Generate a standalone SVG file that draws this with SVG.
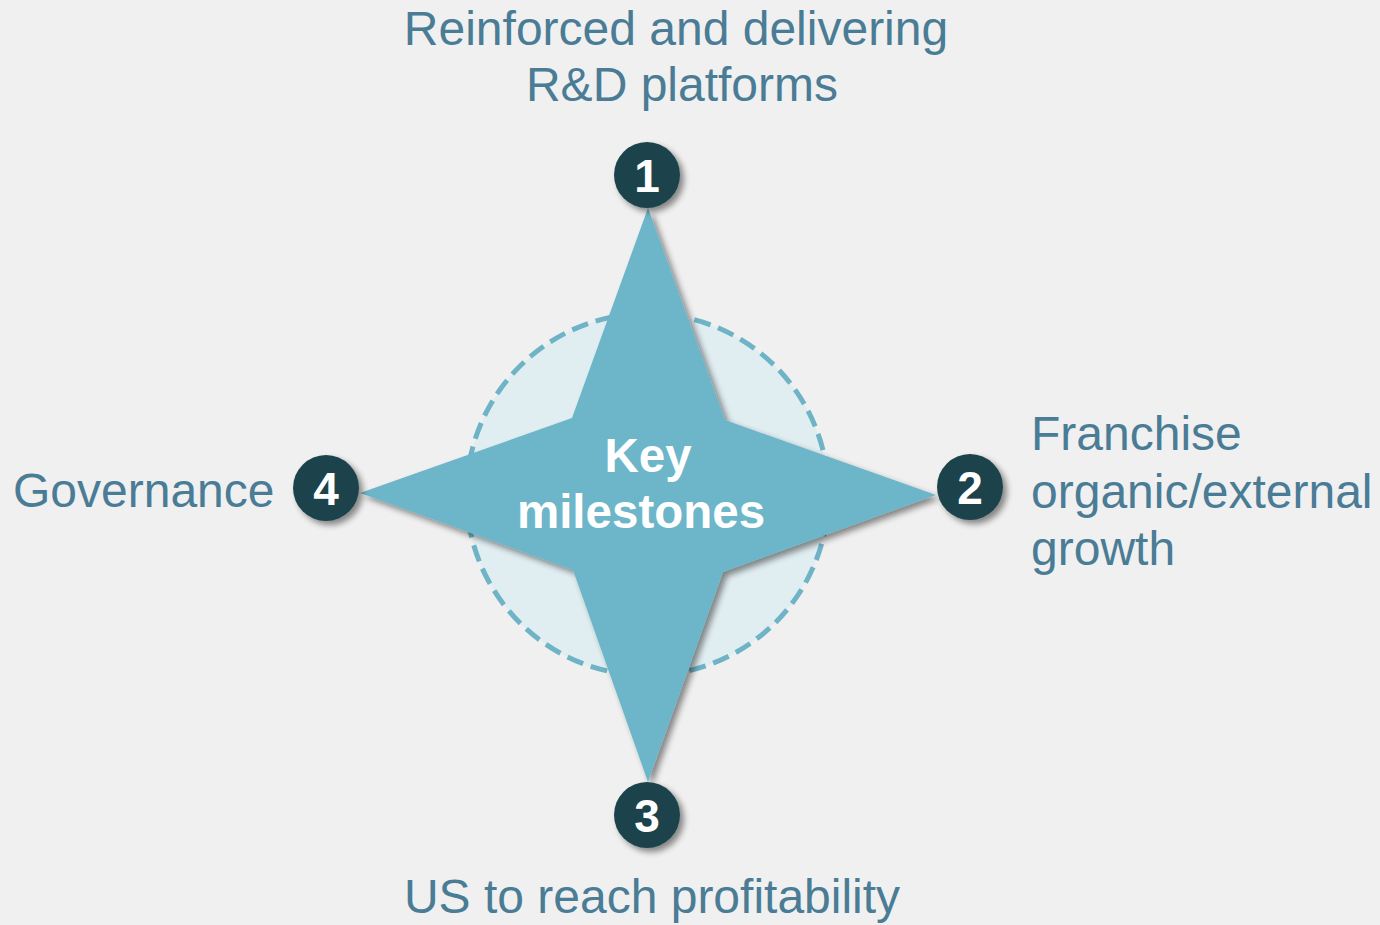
<svg xmlns="http://www.w3.org/2000/svg" width="1380" height="925" viewBox="0 0 1380 925">
<style>
.lbl{font-family:"Liberation Sans",Arial,sans-serif;font-size:48px;fill:#4a7c96}
.num{font-family:"Liberation Sans",Arial,sans-serif;font-size:46px;font-weight:bold;fill:#ffffff;text-anchor:middle}
.badge{fill:#1f434b;filter:url(#sh)}
.ctr{font-family:"Liberation Sans",Arial,sans-serif;font-size:47.5px;font-weight:bold;fill:#ffffff;text-anchor:middle}
</style>
<defs>
<filter id="sh" x="-30%" y="-30%" width="160%" height="160%">
<feGaussianBlur in="SourceAlpha" stdDeviation="3"/>
<feOffset dx="4" dy="4" result="b"/>
<feComponentTransfer><feFuncA type="linear" slope="0.45"/></feComponentTransfer>
<feMerge><feMergeNode/><feMergeNode in="SourceGraphic"/></feMerge>
</filter>
</defs>
<rect width="1380" height="925" fill="#f0f0f0"/>
<g id="center">
<circle cx="647.5" cy="494.5" r="181" fill="#e0edf1" stroke="#6fb3c6" stroke-width="5" stroke-dasharray="17 8"/>
<polygon points="648,208 725,420 936,495 723,572 648,782 573,570 360,493 572,418" fill="#6db5c8" filter="url(#sh)"/>
<text class="ctr" x="648" y="472">Key</text>
<text class="ctr" x="641" y="528">milestones</text>
</g>
<g id="node1">
<circle class="badge" cx="647" cy="175" r="33"/>
<text class="num" x="647" y="192">1</text>
<text class="lbl" x="676" y="45" text-anchor="middle">Reinforced and delivering</text>
<text class="lbl" x="682" y="101" text-anchor="middle">R&amp;D platforms</text>
</g>
<g id="node2">
<circle class="badge" cx="970" cy="487" r="33"/>
<text class="num" x="970" y="504">2</text>
<text class="lbl" x="1031" y="450">Franchise</text>
<text class="lbl" x="1031" y="508">organic/external</text>
<text class="lbl" x="1031" y="565">growth</text>
</g>
<g id="node3">
<circle class="badge" cx="647" cy="815" r="33"/>
<text class="num" x="647" y="832">3</text>
<text class="lbl" x="652" y="913" text-anchor="middle">US to reach profitability</text>
</g>
<g id="node4">
<circle class="badge" cx="326" cy="488" r="33"/>
<text class="num" x="326" y="505">4</text>
<text class="lbl" x="13" y="507">Governance</text>
</g>
<g id="connectors"/>
</svg>
